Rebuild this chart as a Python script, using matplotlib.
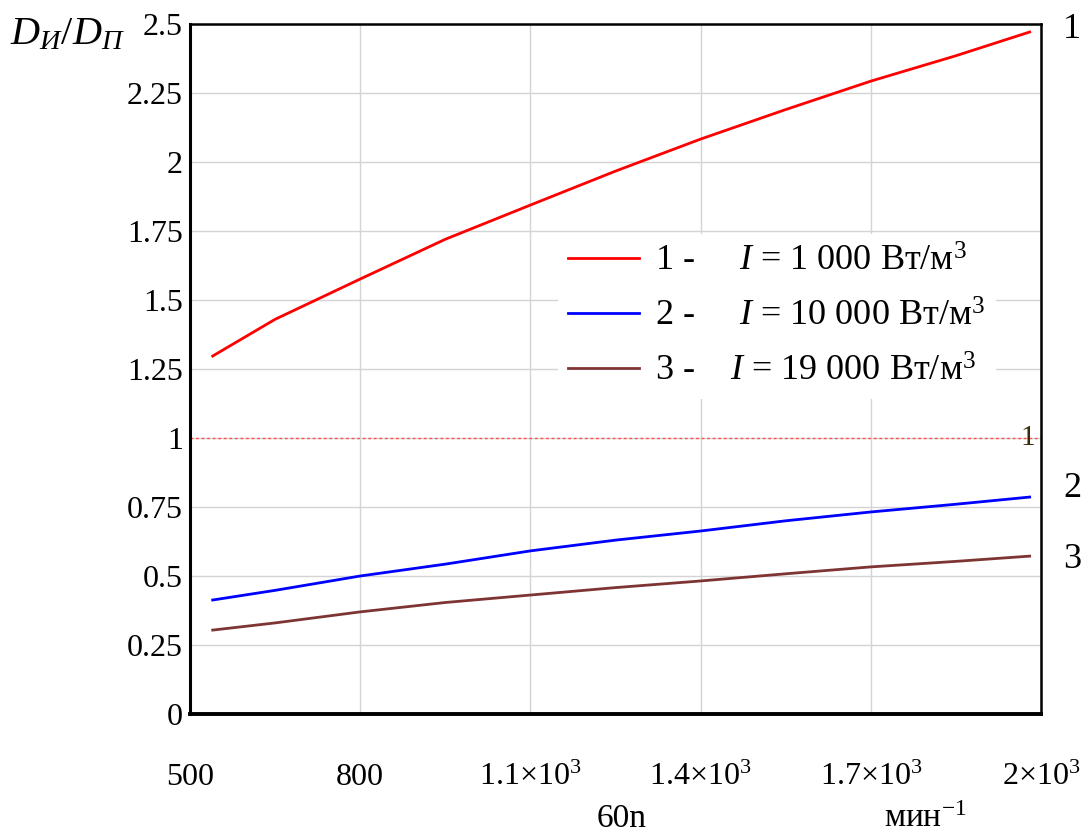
import matplotlib.pyplot as plt
from matplotlib.ticker import FixedLocator

# 60n, min^-1
speed = [540, 650, 800, 950, 1100, 1250, 1400, 1550, 1700, 1850, 1980]
ratio_1000 = [1.297, 1.43, 1.576, 1.72, 1.844, 1.967, 2.083, 2.19, 2.293, 2.385, 2.471]
ratio_10000 = [0.413, 0.448, 0.50, 0.543, 0.591, 0.63, 0.663, 0.70, 0.732, 0.76, 0.786]
ratio_19000 = [0.304, 0.330, 0.37, 0.404, 0.431, 0.458, 0.482, 0.508, 0.533, 0.553, 0.572]

x_ticks = [500, 800, 1100, 1400, 1700, 2000]
x_tick_labels = ["500", "800", r"1.1$\times$10$^3$", r"1.4$\times$10$^3$",
                 r"1.7$\times$10$^3$", r"2$\times$10$^3$"]
y_ticks = [0, 0.25, 0.5, 0.75, 1, 1.25, 1.5, 1.75, 2, 2.25, 2.5]
y_tick_labels = ["0", "0.25", "0.5", "0.75", "1", "1.25", "1.5", "1.75", "2", "2.25", "2.5"]

# values, colour, legend text, end tag, tag nudge
SERIES = [
    (ratio_1000, "#ff0000", "1 -     $I$ = 1 000 Вт/м$^3$", "1", 0.01),
    (ratio_10000, "#0000ff", "2 -     $I$ = 10 000 Вт/м$^3$", "2", 0.03),
    (ratio_19000, "#7f3434", "3 -    $I$ = 19 000 Вт/м$^3$", "3", -0.014),
]

plt.rcParams.update({
    "font.family": ["Liberation Serif", "DejaVu Serif"],
    "mathtext.fontset": "custom",
    "mathtext.rm": "Liberation Serif",
    "mathtext.it": "Liberation Serif:italic",
})

W, H = 1091, 836
fig = plt.figure(figsize=(W / 100, H / 100), dpi=100)
ax = fig.add_axes([190 / W, 1 - 714 / H, 851 / W, 690 / H])

for values, color, label, _, _ in SERIES:
    ax.plot(speed, values, color=color, linewidth=2.0, label=label, zorder=3)

ax.axhline(1, color="#ff5050", linestyle=(0, (2, 2)), linewidth=1.0, zorder=2)
ax.text(0.993, 1, "1", transform=ax.get_yaxis_transform(), ha="right", va="center",
        fontsize=21, color="#3a2a10")

for values, _, _, tag, nudge in SERIES:
    ax.text(1.026, values[-1] + nudge, tag, transform=ax.get_yaxis_transform(),
            ha="left", va="center", fontsize=26)

ax.set_xlim(500, 2000)
ax.set_ylim(0, 2.5)
ax.xaxis.set_major_locator(FixedLocator(x_ticks))
ax.set_xticklabels(x_tick_labels)
ax.yaxis.set_major_locator(FixedLocator(y_ticks))
ax.set_yticklabels(y_tick_labels)
ax.tick_params(length=0, labelsize=23)
ax.tick_params(axis="y", pad=5)
ax.tick_params(axis="x", pad=51)
for lbl in ax.get_xticklabels():
    lbl.set_verticalalignment("baseline")
ax.grid(True, color="#d4d4d4", linewidth=1.0, zorder=0)

for side, width in [("left", 2.2), ("bottom", 2.8), ("top", 1.8), ("right", 1.8)]:
    ax.spines[side].set_linewidth(width)
    ax.spines[side].set_color("black")

leg = ax.legend(loc="upper left", bbox_to_anchor=(0.432, 0.695), frameon=True,
                fontsize=26, handlelength=1.95, handletextpad=0.45, labelspacing=0.6,
                borderpad=0.3, borderaxespad=0)
leg.get_frame().set_edgecolor("none")
leg.get_frame().set_facecolor("white")
leg.get_frame().set_alpha(1)
for line in leg.get_lines():
    line.set_linewidth(2.0)

fig.text(10 / W, 1 - 44 / H, r"$D_{И}/D_{П}$", fontsize=29, va="baseline", ha="left")
fig.text(622 / W, 1 - 827 / H, "60n", fontsize=24, ha="center", va="baseline")
fig.text(925 / W, 1 - 827 / H, "мин$^{-1}$", fontsize=24, ha="center", va="baseline")

fig.savefig("out.png", dpi=100)
